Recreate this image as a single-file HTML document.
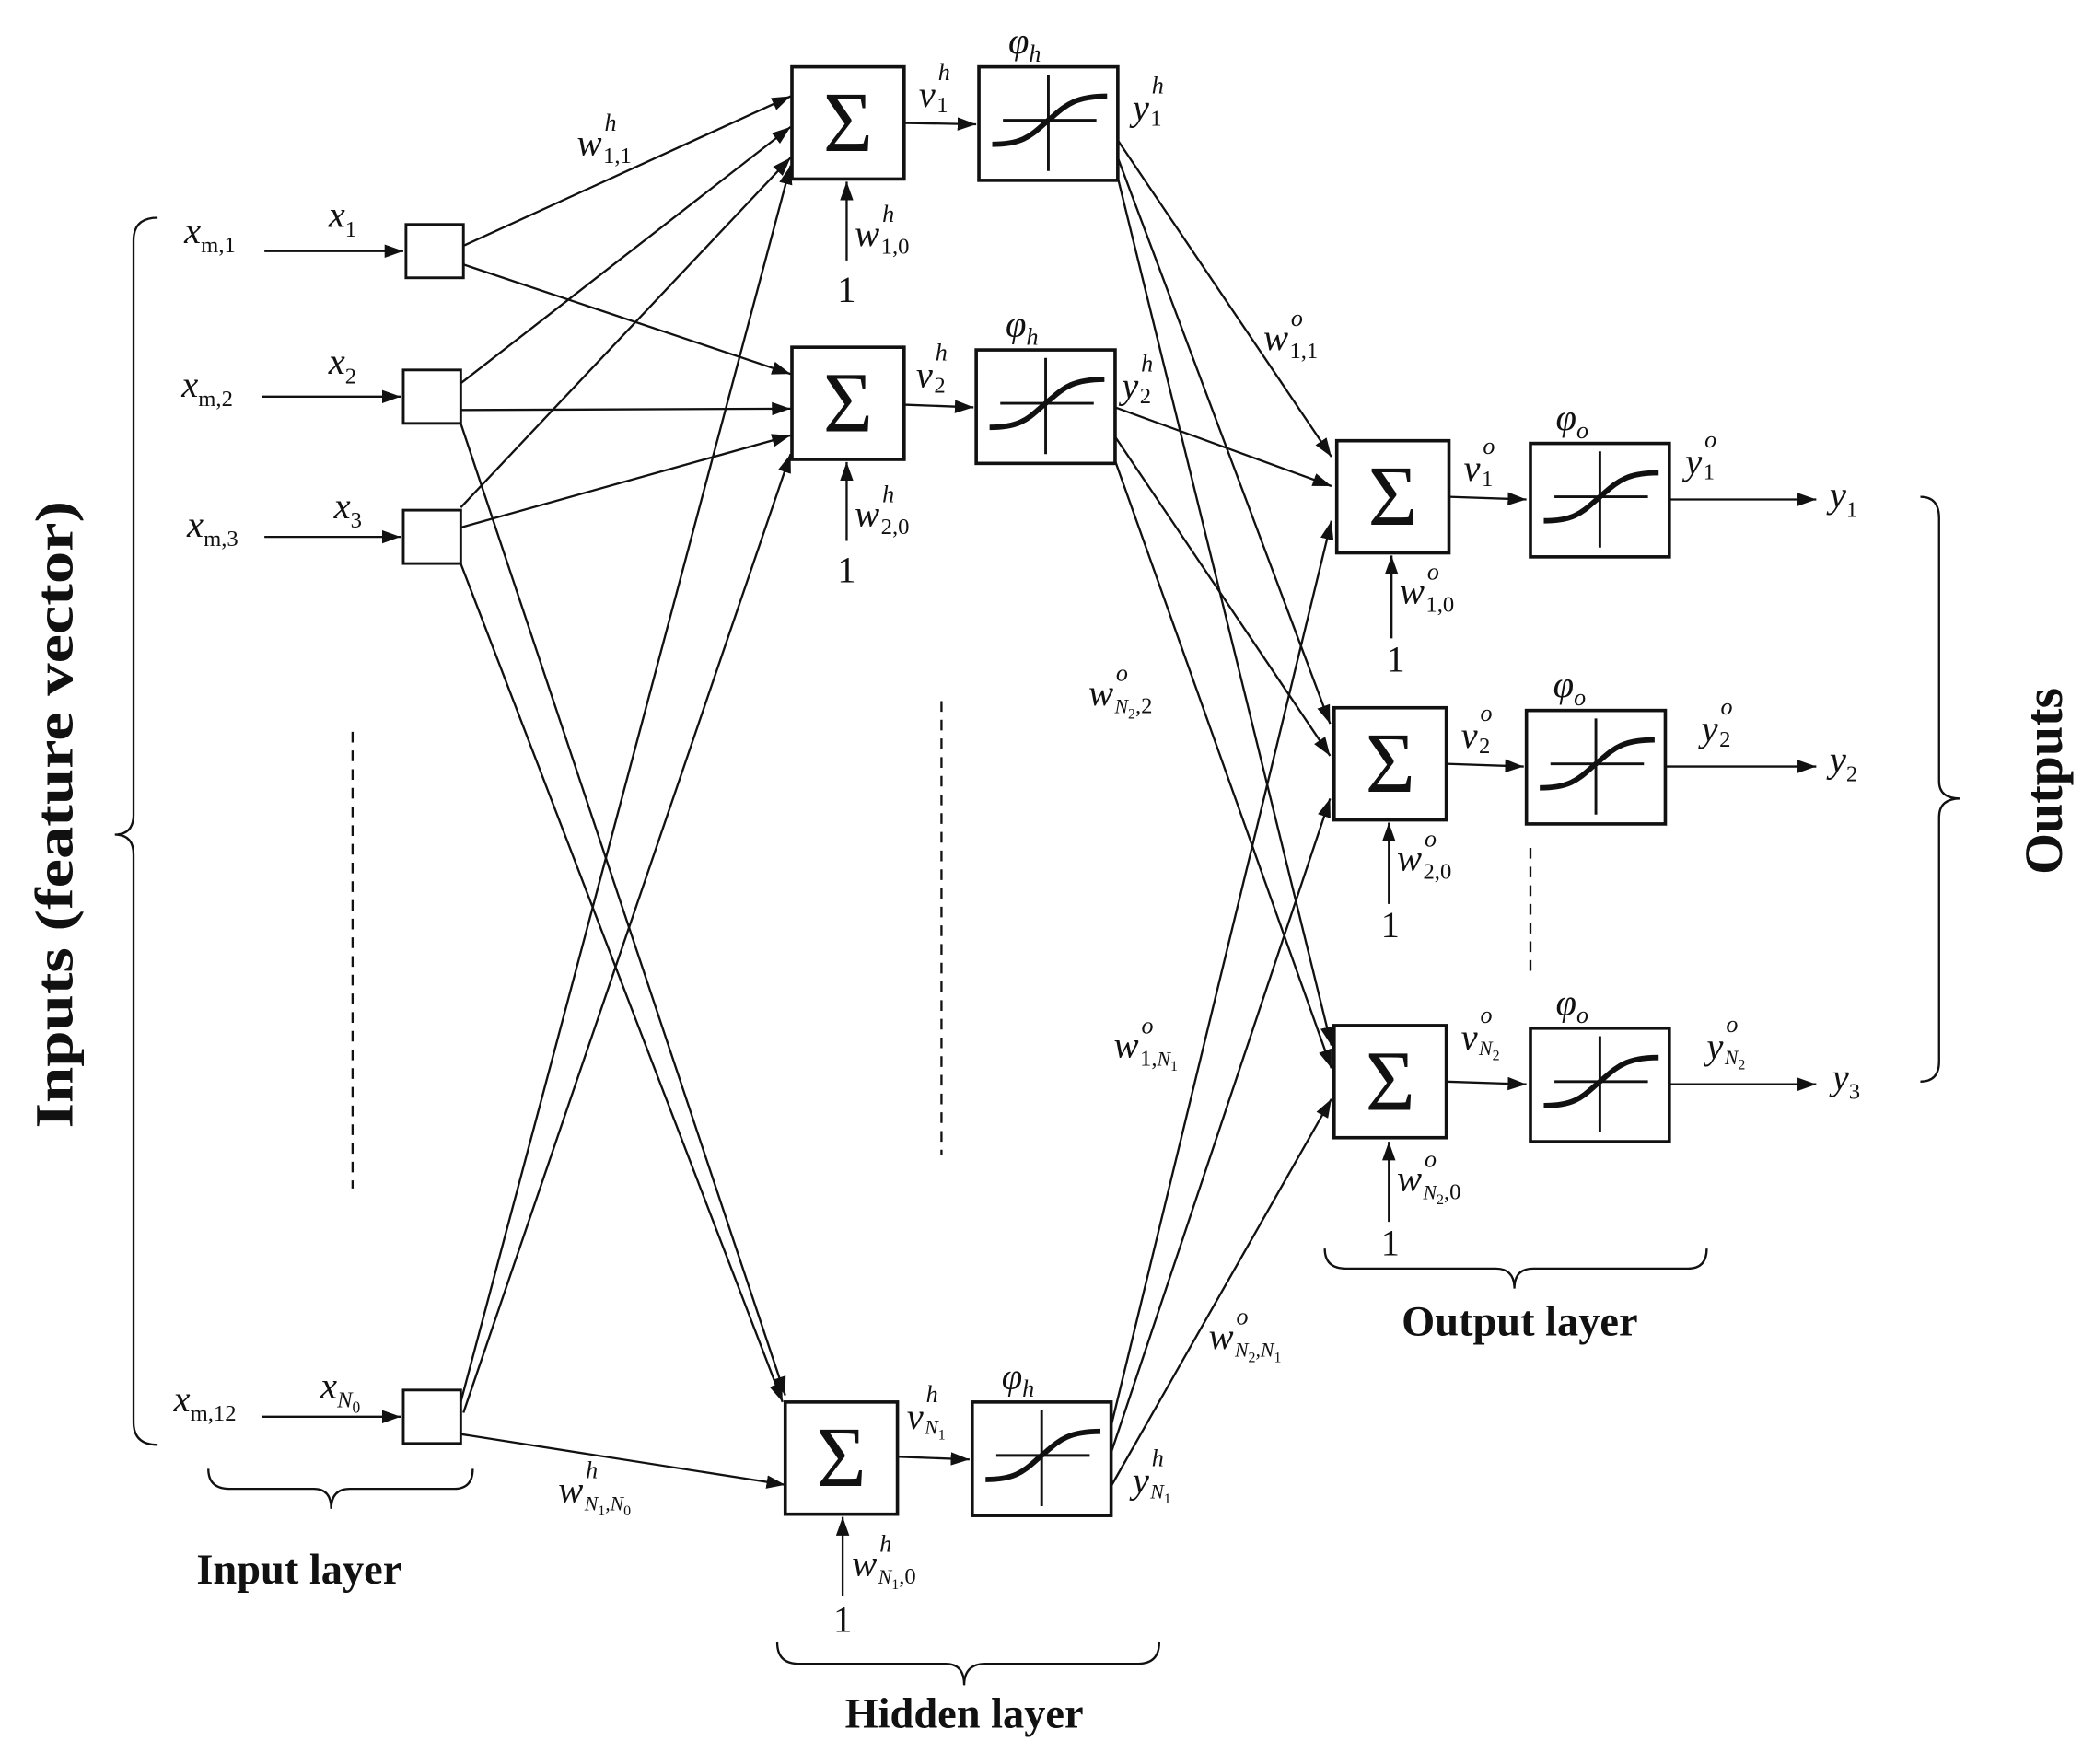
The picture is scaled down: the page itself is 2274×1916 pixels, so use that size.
<!DOCTYPE html>
<html><head><meta charset="utf-8"><style>
html,body{margin:0;padding:0;background:#fff}
svg{display:block}
text{font-family:"Liberation Serif",serif;fill:#111}
.i{font-style:italic}
</style></head><body>
<svg width="2274" height="1916" viewBox="0 0 1568 1321" xmlns="http://www.w3.org/2000/svg">
<defs>
<marker id="b" markerWidth="14" markerHeight="10" refX="14" refY="5" orient="auto" markerUnits="userSpaceOnUse">
<path d="M0,0 L14,5 L0,10 z" fill="#111"/>
</marker>
<g id="sig">
<rect x="0" y="0" width="104" height="85" fill="#fff" stroke="#111" stroke-width="2.5"/>
<line x1="52" y1="6" x2="52" y2="78" stroke="#111" stroke-width="2"/>
<line x1="18" y1="40" x2="88" y2="40" stroke="#111" stroke-width="2"/>
<path d="M10,58 C35,58 40,50 52,40 C64,30 70,22 96,22" fill="none" stroke="#111" stroke-width="4"/>
</g>
<g id="sum">
<rect x="0" y="0" width="84" height="84" fill="#fff" stroke="#111" stroke-width="2.5"/>
<text x="42" y="63" font-size="64" text-anchor="middle">Σ</text>
</g>
</defs>
<g stroke="#111" stroke-width="1.6" fill="none" marker-end="url(#b)">
<line x1="198" y1="188" x2="302" y2="188"/>
<line x1="196" y1="297" x2="300" y2="297"/>
<line x1="198" y1="402" x2="300" y2="402"/>
<line x1="196" y1="1061" x2="300" y2="1061"/>
<line x1="347" y1="184" x2="592" y2="72"/>
<line x1="347" y1="198" x2="592" y2="280"/>
<line x1="345" y1="287" x2="592" y2="95"/>
<line x1="345" y1="307" x2="592" y2="306"/>
<line x1="345" y1="317" x2="588" y2="1045"/>
<line x1="345" y1="380" x2="592" y2="118"/>
<line x1="345" y1="395" x2="592" y2="326"/>
<line x1="345" y1="422" x2="586" y2="1050"/>
<line x1="345" y1="1050" x2="592" y2="124"/>
<line x1="347" y1="1058" x2="592" y2="340"/>
<line x1="345" y1="1074" x2="588" y2="1112"/>
<line x1="678" y1="92" x2="731" y2="93"/>
<line x1="677" y1="303" x2="729" y2="305"/>
<line x1="673" y1="1091" x2="726" y2="1093"/>
<line x1="1085" y1="372" x2="1143" y2="374"/>
<line x1="1083" y1="572" x2="1141" y2="574"/>
<line x1="1083" y1="810" x2="1143" y2="812"/>
<line x1="837" y1="105" x2="997" y2="342"/>
<line x1="837" y1="118" x2="996" y2="542"/>
<line x1="837" y1="133" x2="997" y2="783"/>
<line x1="835" y1="305" x2="997" y2="364"/>
<line x1="835" y1="327" x2="996" y2="566"/>
<line x1="835" y1="345" x2="997" y2="800"/>
<line x1="832" y1="1068" x2="997" y2="390"/>
<line x1="832" y1="1088" x2="996" y2="598"/>
<line x1="832" y1="1113" x2="997" y2="823"/>
<line x1="1250" y1="374" x2="1360" y2="374"/>
<line x1="1248" y1="574" x2="1360" y2="574"/>
<line x1="1250" y1="812" x2="1360" y2="812"/>
<line x1="634" y1="195" x2="634" y2="136"/>
<line x1="634" y1="405" x2="634" y2="346"/>
<line x1="631" y1="1195" x2="631" y2="1136"/>
<line x1="1042" y1="478" x2="1042" y2="416"/>
<line x1="1040" y1="677" x2="1040" y2="616"/>
<line x1="1040" y1="915" x2="1040" y2="855"/>
</g>
<g fill="#fff" stroke="#111" stroke-width="2">
<rect x="304" y="168" width="43" height="40"/>
<rect x="302" y="277" width="43" height="40"/>
<rect x="302" y="382" width="43" height="40"/>
<rect x="302" y="1041" width="43" height="40"/>
</g>
<use href="#sum" x="593" y="50"/><use href="#sum" x="593" y="260"/><use href="#sum" x="588" y="1050"/>
<use href="#sum" x="1001" y="330"/><use href="#sum" x="999" y="530"/><use href="#sum" x="999" y="768"/>
<use href="#sig" x="733" y="50"/><use href="#sig" x="731" y="262"/><use href="#sig" x="728" y="1050"/>
<use href="#sig" x="1146" y="332"/><use href="#sig" x="1143" y="532"/><use href="#sig" x="1146" y="770"/>
<g stroke="#111" stroke-width="1.6" stroke-dasharray="8,6">
<line x1="264" y1="548" x2="264" y2="890"/>
<line x1="705" y1="525" x2="705" y2="865"/>
<line x1="1146" y1="635" x2="1146" y2="728"/>
</g>
<g fill="none" stroke="#111" stroke-width="1.6">
<path d="M118,163 Q100,163 100,180 L100,610 Q100,625 86,625 Q100,625 100,640 L100,1065 Q100,1082 118,1082"/>
<path d="M1438,372 Q1452,372 1452,388 L1452,585 Q1452,598 1468,598 Q1452,598 1452,612 L1452,795 Q1452,810 1438,810"/>
<path d="M156,1100 Q156,1115 172,1115 L235,1115 Q248,1115 248,1130 Q248,1115 262,1115 L340,1115 Q354,1115 354,1100"/>
<path d="M582,1230 Q582,1246 598,1246 L708,1246 Q722,1246 722,1262 Q722,1246 738,1246 L852,1246 Q868,1246 868,1230"/>
<path d="M992,935 Q992,950 1008,950 L1120,950 Q1134,950 1134,965 Q1134,950 1148,950 L1264,950 Q1278,950 1278,935"/>
</g>
<g font-weight="bold" font-size="40">
<text transform="translate(54,610) rotate(-90)" text-anchor="middle" textLength="470" lengthAdjust="spacingAndGlyphs">Inputs (feature vector)</text>
<text transform="translate(1544,585) rotate(-90)" text-anchor="middle">Outputs</text>
</g>
<g font-weight="bold" font-size="32">
<text x="224" y="1186" text-anchor="middle">Input layer</text>
<text x="722" y="1294" text-anchor="middle">Hidden layer</text>
<text x="1138" y="1000" text-anchor="middle">Output layer</text>
</g>
<g font-size="28">
<text x="138" y="182" class="i">x<tspan font-size="17" dy="7" font-style="normal">m,1</tspan></text>
<text x="136" y="297" class="i">x<tspan font-size="17" dy="7" font-style="normal">m,2</tspan></text>
<text x="140" y="402" class="i">x<tspan font-size="17" dy="7" font-style="normal">m,3</tspan></text>
<text x="130" y="1057" class="i">x<tspan font-size="17" dy="7" font-style="normal">m,12</tspan></text>
<text x="246" y="170" class="i">x<tspan font-size="17" dy="7" font-style="normal">1</tspan></text>
<text x="246" y="280" class="i">x<tspan font-size="17" dy="7" font-style="normal">2</tspan></text>
<text x="250" y="388" class="i">x<tspan font-size="17" dy="7" font-style="normal">3</tspan></text>
<text x="240" y="1047" class="i">x<tspan font-size="17" dy="7" class="i">N</tspan><tspan font-size="12" dy="4" font-style="normal">0</tspan></text>
<text x="432" y="116" class="i">w<tspan font-size="18" dx="2" dy="-18">h</tspan><tspan font-size="17" dx="-10" dy="24" font-style="normal">1,1</tspan></text>
<text x="755" y="40" class="i">φ<tspan font-size="18" dy="6">h</tspan></text>
<text x="753" y="252" class="i">φ<tspan font-size="18" dy="6">h</tspan></text>
<text x="750" y="1040" class="i">φ<tspan font-size="18" dy="6">h</tspan></text>
<text x="1165" y="322" class="i">φ<tspan font-size="18" dy="6">o</tspan></text>
<text x="1163" y="522" class="i">φ<tspan font-size="18" dy="6">o</tspan></text>
<text x="1165" y="760" class="i">φ<tspan font-size="18" dy="6">o</tspan></text>
<text x="688" y="80" class="i">v<tspan font-size="18" dx="2" dy="-20">h</tspan><tspan font-size="17" dx="-10" dy="24" font-style="normal">1</tspan></text>
<text x="686" y="290" class="i">v<tspan font-size="18" dx="2" dy="-20">h</tspan><tspan font-size="17" dx="-10" dy="24" font-style="normal">2</tspan></text>
<text x="679" y="1070" class="i">v<tspan font-size="18" dx="2" dy="-20">h</tspan><tspan font-size="15" dx="-10" dy="24">N</tspan><tspan font-size="11" dy="4" font-style="normal">1</tspan></text>
<text x="848" y="90" class="i">y<tspan font-size="18" dx="2" dy="-20">h</tspan><tspan font-size="17" dx="-10" dy="24" font-style="normal">1</tspan></text>
<text x="840" y="298" class="i">y<tspan font-size="18" dx="2" dy="-20">h</tspan><tspan font-size="17" dx="-10" dy="24" font-style="normal">2</tspan></text>
<text x="848" y="1118" class="i">y<tspan font-size="18" dx="2" dy="-20">h</tspan><tspan font-size="15" dx="-10" dy="24">N</tspan><tspan font-size="11" dy="4" font-style="normal">1</tspan></text>
<text x="640" y="184" class="i">w<tspan font-size="18" dx="2" dy="-18">h</tspan><tspan font-size="17" dx="-10" dy="24" font-style="normal">1,0</tspan></text>
<text x="640" y="394" class="i">w<tspan font-size="18" dx="2" dy="-18">h</tspan><tspan font-size="17" dx="-10" dy="24" font-style="normal">2,0</tspan></text>
<text x="638" y="1180" class="i">w<tspan font-size="18" dx="2" dy="-18">h</tspan><tspan font-size="15" dx="-10" dy="24">N</tspan><tspan font-size="11" dy="4" font-style="normal">1</tspan><tspan font-size="17" dy="-4" font-style="normal">,0</tspan></text>
<text x="627" y="226">1</text>
<text x="627" y="436">1</text>
<text x="624" y="1222">1</text>
<text x="418" y="1125" class="i">w<tspan font-size="18" dx="2" dy="-18">h</tspan><tspan font-size="15" dx="-10" dy="24">N</tspan><tspan font-size="11" dy="4" font-style="normal">1</tspan><tspan font-size="15" dy="-4">,N</tspan><tspan font-size="11" dy="4" font-style="normal">0</tspan></text>
<text x="946" y="262" class="i">w<tspan font-size="18" dx="2" dy="-18">o</tspan><tspan font-size="17" dx="-10" dy="24" font-style="normal">1,1</tspan></text>
<text x="815" y="528" class="i">w<tspan font-size="18" dx="2" dy="-18">o</tspan><tspan font-size="15" dx="-10" dy="24">N</tspan><tspan font-size="11" dy="4" font-style="normal">2</tspan><tspan font-size="17" dy="-4" font-style="normal">,2</tspan></text>
<text x="834" y="792" class="i">w<tspan font-size="18" dx="2" dy="-18">o</tspan><tspan font-size="17" dx="-10" dy="24" font-style="normal">1,</tspan><tspan font-size="15">N</tspan><tspan font-size="11" dy="4" font-style="normal">1</tspan></text>
<text x="905" y="1010" class="i">w<tspan font-size="18" dx="2" dy="-18">o</tspan><tspan font-size="15" dx="-10" dy="24">N</tspan><tspan font-size="11" dy="4" font-style="normal">2</tspan><tspan font-size="15" dy="-4">,N</tspan><tspan font-size="11" dy="4" font-style="normal">1</tspan></text>
<text x="1096" y="360" class="i">v<tspan font-size="18" dx="2" dy="-20">o</tspan><tspan font-size="17" dx="-10" dy="24" font-style="normal">1</tspan></text>
<text x="1094" y="560" class="i">v<tspan font-size="18" dx="2" dy="-20">o</tspan><tspan font-size="17" dx="-10" dy="24" font-style="normal">2</tspan></text>
<text x="1094" y="786" class="i">v<tspan font-size="18" dx="2" dy="-20">o</tspan><tspan font-size="15" dx="-10" dy="24">N</tspan><tspan font-size="11" dy="4" font-style="normal">2</tspan></text>
<text x="1262" y="355" class="i">y<tspan font-size="18" dx="2" dy="-20">o</tspan><tspan font-size="17" dx="-10" dy="24" font-style="normal">1</tspan></text>
<text x="1274" y="555" class="i">y<tspan font-size="18" dx="2" dy="-20">o</tspan><tspan font-size="17" dx="-10" dy="24" font-style="normal">2</tspan></text>
<text x="1278" y="793" class="i">y<tspan font-size="18" dx="2" dy="-20">o</tspan><tspan font-size="15" dx="-10" dy="24">N</tspan><tspan font-size="11" dy="4" font-style="normal">2</tspan></text>
<text x="1048" y="452" class="i">w<tspan font-size="18" dx="2" dy="-18">o</tspan><tspan font-size="17" dx="-10" dy="24" font-style="normal">1,0</tspan></text>
<text x="1046" y="652" class="i">w<tspan font-size="18" dx="2" dy="-18">o</tspan><tspan font-size="17" dx="-10" dy="24" font-style="normal">2,0</tspan></text>
<text x="1046" y="892" class="i">w<tspan font-size="18" dx="2" dy="-18">o</tspan><tspan font-size="15" dx="-10" dy="24">N</tspan><tspan font-size="11" dy="4" font-style="normal">2</tspan><tspan font-size="17" dy="-4" font-style="normal">,0</tspan></text>
<text x="1038" y="503">1</text>
<text x="1034" y="702">1</text>
<text x="1034" y="940">1</text>
<text x="1370" y="380" class="i">y<tspan font-size="17" dy="7" font-style="normal">1</tspan></text>
<text x="1370" y="578" class="i">y<tspan font-size="17" dy="7" font-style="normal">2</tspan></text>
<text x="1372" y="816" class="i">y<tspan font-size="17" dy="7" font-style="normal">3</tspan></text>
</g>
</svg>
</body></html>
